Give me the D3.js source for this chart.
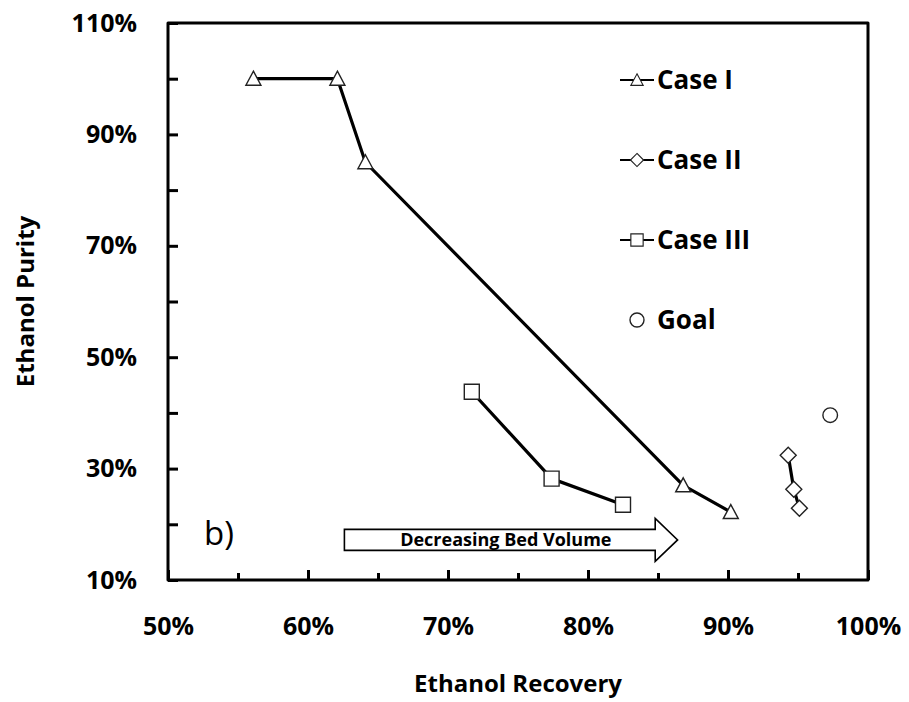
<!DOCTYPE html>
<html>
<head>
<meta charset="utf-8">
<script src="https://cdn.jsdelivr.net/npm/d3@7"></script>
<style>
  html, body { margin: 0; padding: 0; background: #fff; }
  svg { display: block; font-family: "Open Sans", "Noto Sans", sans-serif; }
</style>
</head>
<body>
<svg id="chart" width="909" height="702"></svg>
<script>
// Recovery (x) / purity (y) pairs, in percent
const caseI   = [[56.1, 100], [62.1, 100], [64.1, 85], [86.8, 27.0], [90.2, 22.2]];
const caseII  = [[94.3, 32.4], [94.7, 26.3], [95.1, 22.9]];
const caseIII = [[71.7, 43.8], [77.4, 28.2], [82.5, 23.5]];
const goal    = [[97.3, 39.6]];

const seriesNames = ["Case I", "Case II", "Case III", "Goal"];
const xMajorTicks = [50, 60, 70, 80, 90, 100];
const xMinorTicks = [55, 65, 75, 85, 95];
const yTicks = [10, 20, 30, 40, 50, 60, 70, 80, 90, 100, 110];
const yLabelled = [10, 30, 50, 70, 90, 110];

const svg = d3.select("#chart");
const plot = { left: 168, top: 23, right: 868, bottom: 580 };

const x = d3.scaleLinear().domain([50, 100]).range([plot.left, plot.right]);
const y = d3.scaleLinear().domain([10, 110]).range([plot.bottom, plot.top]);

const pct = d => d + "%";

// Y axis: ticks every 10 %, labels every 20 %
const yAxis = svg.append("g")
  .attr("transform", `translate(${plot.left},0)`)
  .call(d3.axisLeft(y).tickValues(yTicks).tickSize(-10).tickPadding(31)
    .tickFormat(d => yLabelled.includes(d) ? pct(d) : ""));

// X axis: long ticks with labels at 10 %, short ticks at 5 %
const xAxis = svg.append("g")
  .attr("transform", `translate(0,${plot.bottom})`)
  .call(d3.axisBottom(x).tickValues(xMajorTicks).tickSize(-10).tickPadding(37).tickFormat(pct));
const xMinor = svg.append("g")
  .attr("transform", `translate(0,${plot.bottom})`)
  .call(d3.axisBottom(x).tickValues(xMinorTicks).tickSize(-7).tickFormat(""));

[yAxis, xAxis, xMinor].forEach(g => {
  g.attr("font-size", null).attr("font-family", null);
  g.select(".domain").remove();
  g.selectAll(".tick line").attr("stroke", "#000").attr("stroke-width", 3);
  g.selectAll(".tick text")
    .attr("fill", "#000")
    .attr("font-size", 25)
    .attr("font-weight", 700)
    .attr("font-family", "'Open Sans', sans-serif");
});

// Plot frame
svg.append("rect")
  .attr("x", plot.left).attr("y", plot.top)
  .attr("width", plot.right - plot.left).attr("height", plot.bottom - plot.top)
  .attr("fill", "none").attr("stroke", "#000").attr("stroke-width", 3)
  .attr("stroke-linejoin", "round");

// Axis titles
svg.append("text")
  .attr("x", (plot.left + plot.right) / 2).attr("y", 692)
  .attr("text-anchor", "middle").attr("font-size", 24).attr("font-weight", 700)
  .text("Ethanol Recovery");
svg.append("text")
  .attr("transform", `translate(34,${(plot.top + plot.bottom) / 2}) rotate(-90)`)
  .attr("text-anchor", "middle").attr("font-size", 24).attr("font-weight", 700)
  .text("Ethanol Purity");

// Marker shapes
const triPath = "M0,-7.5L7.5,6.5L-7.5,6.5Z";
const diaPath = "M0,-8L8,0L0,8L-8,0Z";
const sqPath  = "M-7.5,-7.5H7.5V7.5H-7.5Z";
const markerStyle = sel => sel.attr("fill", "#fff").attr("stroke", "#222").attr("stroke-width", 1.4);

const line = d3.line().x(d => x(d[0])).y(d => y(d[1]));

function drawSeries(data, shape) {
  svg.append("path").datum(data)
    .attr("d", line).attr("fill", "none").attr("stroke", "#000")
    .attr("stroke-width", 3.2).attr("stroke-linejoin", "round");
  svg.append("g").selectAll("path").data(data).join("path")
    .attr("d", shape)
    .attr("transform", d => `translate(${x(d[0])},${y(d[1])})`)
    .call(markerStyle);
}
drawSeries(caseI, triPath);
drawSeries(caseII, diaPath);
drawSeries(caseIII, sqPath);

svg.append("g").selectAll("circle").data(goal).join("circle")
  .attr("cx", d => x(d[0])).attr("cy", d => y(d[1])).attr("r", 7.3)
  .call(markerStyle);

// Legend
const legendShapes = [triPath, diaPath, sqPath, null];
const legend = svg.append("g");
seriesNames.forEach((name, i) => {
  const cy = 80 + i * 80;
  const g = legend.append("g").attr("transform", `translate(637,${cy})`);
  if (legendShapes[i]) {
    g.append("line").attr("x1", -17).attr("x2", 17)
      .attr("stroke", "#000").attr("stroke-width", 2.2);
    g.append("path").attr("d", legendShapes[i])
      .attr("transform", "scale(0.82)").call(markerStyle);
  } else {
    g.append("circle").attr("r", 7).call(markerStyle);
  }
  g.append("text").attr("x", 20).attr("y", 9)
    .attr("font-size", 26).attr("font-weight", 700).text(name);
});

// Panel tag
svg.append("text").attr("x", 204).attr("y", 545)
  .attr("font-size", 33).attr("font-weight", 400).text("b)");

// Direction arrow
const arrowFrom = 62.6, arrowTo = 86.4, arrowBaseX = 84.8, arrowY = 17.2;
const shaftHalf = 10.5, headHalf = 21.5;
const ax0 = x(arrowFrom), ax1 = x(arrowTo), axh = x(arrowBaseX), ay = y(arrowY);
svg.append("path")
  .attr("d", `M${ax0},${ay - shaftHalf}H${axh}V${ay - headHalf}L${ax1},${ay}L${axh},${ay + headHalf}V${ay + shaftHalf}H${ax0}Z`)
  .attr("fill", "#fff").attr("stroke", "#000").attr("stroke-width", 1.6);
svg.append("text")
  .attr("x", (ax0 + axh) / 2 + 6).attr("y", ay + 6.5)
  .attr("text-anchor", "middle").attr("font-size", 18).attr("font-weight", 700)
  .text("Decreasing Bed Volume");
</script>
</body>
</html>
